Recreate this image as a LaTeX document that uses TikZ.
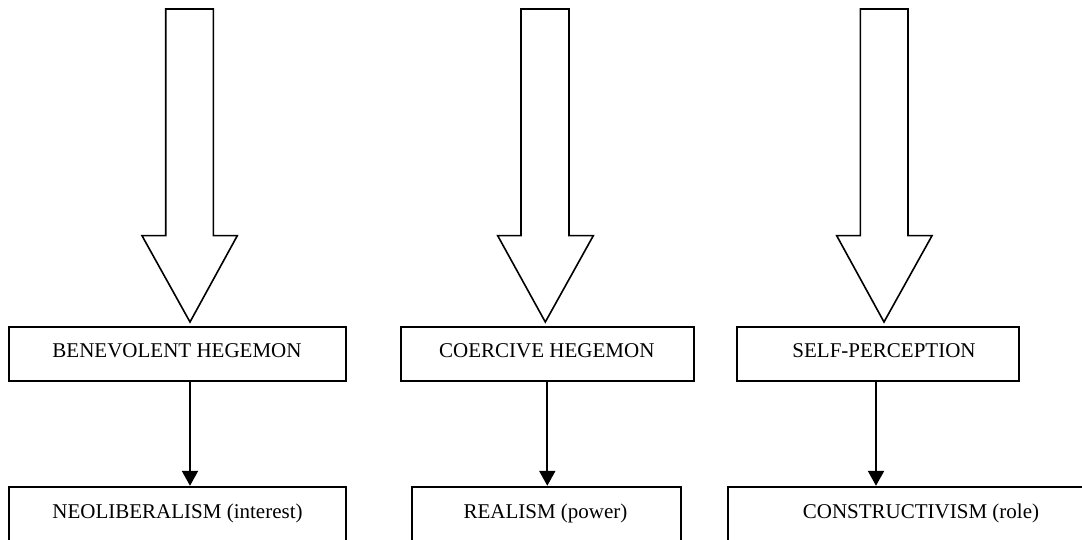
\documentclass[tikz,border=0pt]{standalone}
\usepackage{fontspec}
\setmainfont{Liberation Serif}
\usetikzlibrary{arrows.meta}
\tikzset{
  boxnode/.style={draw=black, line width=1.8pt, fill=none, inner sep=0pt},
  blockarrow/.style={draw=black, line width=1.6pt, line join=miter, fill=white},
  flowarrow/.style={draw=black, line width=2.2pt, -{Triangle[length=15pt,width=16pt]}},
  lbl/.style={anchor=base, inner sep=0pt, font=\fontsize{21}{25}\selectfont}
}
\begin{document}
\begin{tikzpicture}[x=1pt,y=-1pt]
\useasboundingbox (0,0) rectangle (1082,540);
\clip (0,0) rectangle (1082,540);
% block arrows
\draw[blockarrow] (165.7,9) -- (213.3,9) -- (213.3,235.7) -- (237.3,235.7) -- (190,322) -- (142,235.7) -- (165.7,235.7) -- cycle;
\draw[blockarrow] (521,9) -- (569,9) -- (569,235.7) -- (593.3,235.7) -- (545.3,322) -- (497.7,235.7) -- (521,235.7) -- cycle;
\draw[blockarrow] (860.3,9) -- (908,9) -- (908,235.7) -- (932,235.7) -- (884,322) -- (836.7,235.7) -- (860.3,235.7) -- cycle;
% boxes
\node[boxnode, minimum width=336.4pt, minimum height=54pt] (bh) at (177.5,353.7) {};
\node[boxnode, minimum width=336.4pt, minimum height=80pt] (neo) at (177.5,526.7) {};
\node[boxnode, minimum width=293pt, minimum height=54pt] (ch) at (547.2,353.7) {};
\node[boxnode, minimum width=269.3pt, minimum height=80pt] (real) at (546.35,526.7) {};
\node[boxnode, minimum width=282pt, minimum height=54pt] (sp) at (878.3,353.7) {};
\node[boxnode, minimum width=386pt, minimum height=80pt] (con) at (921.3,526.7) {};
% labels
\node[lbl] (tbh) at (177,357.3) {BENEVOLENT HEGEMON};
\node[lbl] (tneo) at (177.5,518.3) {NEOLIBERALISM (interest)};
\node[lbl] (tch) at (546.8,357.3) {COERCIVE HEGEMON};
\node[lbl] (treal) at (545.5,518.3) {REALISM (power)};
\node[lbl] (tsp) at (884,357.3) {SELF-PERCEPTION};
\node[lbl] (tcon) at (921,518.3) {CONSTRUCTIVISM (role)};
% connectors
\draw[flowarrow] (bh.south -| 190,0) -- (neo.north -| 190,0);
\draw[flowarrow] (ch.south -| 547.3,0) -- (real.north -| 547.3,0);
\draw[flowarrow] (sp.south -| 876,0) -- (con.north -| 876,0);
\end{tikzpicture}
\end{document}
